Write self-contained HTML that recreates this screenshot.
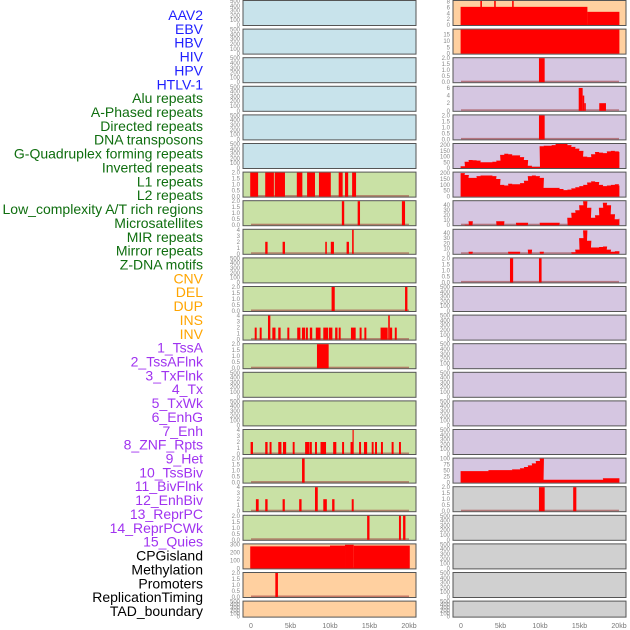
<!DOCTYPE html>
<html><head><meta charset="utf-8"><style>
html,body{margin:0;padding:0;background:#fff;}
svg{display:block;font-family:"Liberation Sans",sans-serif;}
</style></head><body>
<svg id="chart" width="630" height="630" viewBox="0 0 630 630" xmlns="http://www.w3.org/2000/svg"></svg>
<script>
const labels = ["AAV2","EBV","HBV","HIV","HPV","HTLV-1","Alu repeats","A-Phased repeats","Directed repeats","DNA transposons","G-Quadruplex forming repeats","Inverted repeats","L1 repeats","L2 repeats","Low_complexity A/T rich regions","Microsatellites","MIR repeats","Mirror repeats","Z-DNA motifs","CNV","DEL","DUP","INS","INV","1_TssA","2_TssAFlnk","3_TxFlnk","4_Tx","5_TxWk","6_EnhG","7_Enh","8_ZNF_Rpts","9_Het","10_TssBiv","11_BivFlnk","12_EnhBiv","13_ReprPC","14_ReprPCWk","15_Quies","CPGisland","Methylation","Promoters","ReplicationTiming","TAD_boundary"];
const labelGroups = ["virus","virus","virus","virus","virus","virus","rep","rep","rep","rep","rep","rep","rep","rep","rep","rep","rep","rep","rep","sv","sv","sv","sv","sv","hmm","hmm","hmm","hmm","hmm","hmm","hmm","hmm","hmm","hmm","hmm","hmm","hmm","hmm","hmm","other","other","other","other","other"];
const xTickValues = [0,5,10,15,20];
const xTickLabels = ["0","5kb","10kb","15kb","20kb"];

const ticks500 = [0,100,200,300,400,500];
const ticks2 = [0,0.5,1.0,1.5,2.0];
const ticks4 = [0,1,2,3,4];

// bar data: [startKb, endKb, value]
const L6_bars = [[-0.1,0.9,2],[1.8,2.9,2],[3.0,4.3,2],[5.8,6.5,2],[7.1,8.1,2],[8.6,10.1,2],[11.1,11.6,2],[11.9,12.3,2],[12.8,13.3,2]];
const L7_bars = [[11.5,11.8,2],[13.5,13.8,2],[19.1,19.5,2]];
const L8_bars = [[1.8,2.1,2],[4.0,4.3,2],[9.4,9.6,2],[10.1,10.5,2],[12.1,12.4,2],[12.8,13.0,4]];
const L10_bars = [[10.2,10.6,2],[19.5,19.8,2]];
const L11_bars = [[0.47,0.72,2],[1.1,1.35,2],[2.15,2.45,4],[2.7,3.1,2],[3.45,3.75,2],[4.6,4.85,2],[5.85,6.25,2],[6.45,6.85,2],[6.95,7.2,2],[7.45,7.75,2],[8.2,8.8,2],[9.15,9.75,2],[9.85,10.3,2],[10.65,10.95,2],[11.1,11.35,2],[12.65,13.25,2],[13.75,14.0,2],[14.35,14.6,2],[16.4,17.3,2],[17.37,17.57,4],[17.57,17.87,2],[18.2,18.45,2]];
const L12_bars = [[8.35,9.83,2]];
const L15_bars = [[-0.05,0.25,2],[1.8,2.1,2],[2.35,2.6,2],[3.45,3.85,2],[4.05,4.45,2],[5.28,5.52,2],[6.85,7.35,2],[7.4,7.7,2],[8.1,8.35,2],[8.8,9.5,2],[10.4,10.8,2],[11.53,11.78,2],[12.6,12.85,2],[12.85,13.0,4],[13.68,13.93,2],[14.3,14.7,2],[15.28,15.52,2],[15.7,15.95,2],[16.45,16.7,2],[17.8,18.05,2],[18.73,18.98,2]];
const L16_bars = [[6.46,6.79,2]];
const L17_bars = [[0.62,0.97,2],[1.8,2.1,2],[4.0,4.28,2],[6.1,6.4,2],[8.1,8.45,4],[9.15,9.6,2],[10.27,10.57,2],[12.75,13.0,2]];
const L18_bars = [[14.7,15.0,2],[18.73,18.98,2],[19.25,19.55,2]];
const L19_bars = [[-0.1,10.0,275],[10.0,11.9,285],[11.9,13.0,295],[13.0,20.1,285]];
const L20_bars = [[3.08,3.41,2]];

const R0_bars = [[-0.05,16.0,6.2],[16.0,20.05,4.5],[2.45,2.65,9],[4.2,4.4,9],[6.47,6.67,9]];
const R1_bars = [[-0.05,20.05,20]];
const R2_bars = [[9.87,10.59,2]];
const R3_bars = [[14.9,15.4,6],[15.4,15.6,4],[15.6,15.8,2],[17.5,18.35,2]];
const R4_bars = [[9.87,10.59,2]];
const R9_bars = [[6.2,6.6,2],[9.87,10.2,2]];
const R17_bars = [[9.87,10.59,2],[14.2,14.6,2]];

// step series sampled every 0.5kb from 0kb to 20kb
const R5_values = [15,55,70,68,65,50,50,50,55,65,115,125,120,110,110,95,70,20,10,10,190,195,195,200,210,215,210,200,185,170,150,100,95,120,140,135,130,145,150,145,140];
const R6_values = [200,185,160,160,175,180,180,180,175,150,100,95,110,105,105,115,135,175,180,175,160,75,75,75,75,65,55,60,70,80,90,100,120,130,125,100,90,95,100,105,95];
const R7_values = [0,1,8,0,0,0,0,0,0,8,8,0,0,0,5,5,5,0,0,0,5,5,5,5,5,0,0,15,25,30,40,48,35,15,20,35,45,40,22,12,13];
const R8_values = [0,0,4,0,0,0,0,0,0,0,0,0,4,4,4,0,0,8,0,0,4,0,0,0,0,0,0,0,3,8,30,45,25,12,12,13,14,8,4,5,5];
const R16_values = [48,48,48,48,48,48,48,52,52,52,52,52,52,55,55,60,65,72,80,90,100,12,12,12,12,12,12,12,12,12,12,12,12,12,12,12,18,18,18,18,18];

const S = "http://www.w3.org/2000/svg";
const svg = document.getElementById("chart");
function mk(tag, attrs, parent){ const e=document.createElementNS(S,tag); for(const k in attrs) e.setAttribute(k,attrs[k]); (parent||svg).appendChild(e); return e; }

const colors = {virus:"#1f1fff",rep:"#0f6e0f",sv:"#ffa500",hmm:"#a033f0",other:"#000"};
labels.forEach((t,i)=>{
  const el = mk("text",{x:203,y:20+i*13.86,"text-anchor":"end","font-size":"14",fill:colors[labelGroups[i]]});
  el.textContent=t;
  
  
});

const BLUE="#c8e3eb", GREEN="#c9e1a5", ORANGE="#ffd0a0", PURPLE="#d5c6e1", GRAY="#d0d0d0";
// [bg, ymax, ticks, type, data]
const left = [
 [BLUE,500,ticks500,null,null],[BLUE,500,ticks500,null,null],[BLUE,500,ticks500,null,null],[BLUE,500,ticks500,null,null],[BLUE,500,ticks500,null,null],[BLUE,500,ticks500,null,null],
 [GREEN,2,ticks2,"bars",L6_bars],[GREEN,2,ticks2,"bars",L7_bars],[GREEN,4,ticks4,"bars",L8_bars],[GREEN,500,ticks500,null,null],
 [GREEN,2,ticks2,"bars",L10_bars],[GREEN,4,ticks4,"bars",L11_bars],[GREEN,2,ticks2,"bars",L12_bars],[GREEN,500,ticks500,null,null],
 [GREEN,500,ticks500,null,null],[GREEN,4,ticks4,"bars",L15_bars],[GREEN,2,ticks2,"bars",L16_bars],[GREEN,4,ticks4,"bars",L17_bars],
 [GREEN,2,ticks2,"bars",L18_bars],[ORANGE,300,[0,100,200,300],"bars",L19_bars],[ORANGE,2,ticks2,"bars",L20_bars],[ORANGE,500,ticks500,null,null]
];
const right = [
 [ORANGE,8.2,[0,2,4,6,8],"bars",R0_bars],[ORANGE,19,[0,5,10,15],"bars",R1_bars],[PURPLE,2,ticks2,"bars",R2_bars],[PURPLE,6.3,[0,2,4,6],"bars",R3_bars],
 [PURPLE,2,ticks2,"bars",R4_bars],[PURPLE,210,[0,50,100,150,200],"steps",R5_values],[PURPLE,205,[0,50,100,150,200],"steps",R6_values],
 [PURPLE,48,[0,10,20,30,40],"steps",R7_values],[PURPLE,46,[0,10,20,30,40],"steps",R8_values],[PURPLE,2,ticks2,"bars",R9_bars],
 [PURPLE,500,ticks500,null,null],[PURPLE,500,ticks500,null,null],[PURPLE,500,ticks500,null,null],[PURPLE,500,ticks500,null,null],[PURPLE,500,ticks500,null,null],[PURPLE,500,ticks500,null,null],
 [PURPLE,100,[0,25,50,75,100],"steps",R16_values],[GRAY,2,ticks2,"bars",R17_bars],
 [GRAY,500,ticks500,null,null],[GRAY,500,ticks500,null,null],[GRAY,500,ticks500,null,null],[GRAY,500,ticks500,null,null]
];

function drawPanel(p, i, x0, side){
  const y0 = i*28.6 + 0.5;
  const h = (i===21)?16:25;
  const g = mk("g",{});
  
  
  mk("rect",{x:x0,y:y0,width:173,height:h,fill:p[0],stroke:"#555","stroke-width":1},g);
  const top=y0+0.5, bot=y0+h-0.5;
  const yS = v => bot - v/p[1]*(bot-top);
  const xS = kb => x0+8+kb*7.9;
  p[2].forEach(t=>{
    const tx = mk("text",{x:x0-3,y:yS(t)+2,"text-anchor":"end","font-size":"6",fill:"#888"},g);
    tx.textContent = (p[1]===2 ? t.toFixed(1) : String(t));
    
    
  });
  if(p[3]){
    mk("rect",{x:xS(0),y:bot-1.5,width:xS(20)-xS(0),height:1.5,fill:"#a04040",opacity:0.6},g);
  }
  if(p[3]==="bars"){
    p[4].forEach(b=>{
      const yy = Math.max(yS(b[2]),top);
      const r = mk("rect",{x:xS(b[0]),y:yy,width:Math.max(xS(b[1])-xS(b[0]),1),height:bot-yy,fill:"#ff0000"},g);
      
      
    });
  } else if(p[3]==="steps"){
    let d = "M"+xS(-0.05)+","+bot;
    p[4].forEach((v,k)=>{
      const a = k*0.5-0.05, b = Math.min(k*0.5+0.5, 20.05);
      const yy = Math.max(yS(v),top);
      d += " L"+xS(a)+","+yy+" L"+xS(b)+","+yy;
    });
    d += " L"+xS(20.05)+","+bot+" Z";
    const pa = mk("path",{d:d,fill:"#ff0000"},g);
    
    
  }
}
left.forEach((p,i)=>drawPanel(p,i,243,"left"));
right.forEach((p,i)=>drawPanel(p,i,453,"right"));

[251,461].forEach(x0=>{
  xTickValues.forEach((v,k)=>{
    const t = mk("text",{x:x0+v*7.9,y:628,"text-anchor":"middle","font-size":"7",fill:"#777"});
    t.textContent = xTickLabels[k];
    
    
  });
});
</script>
</body></html>
